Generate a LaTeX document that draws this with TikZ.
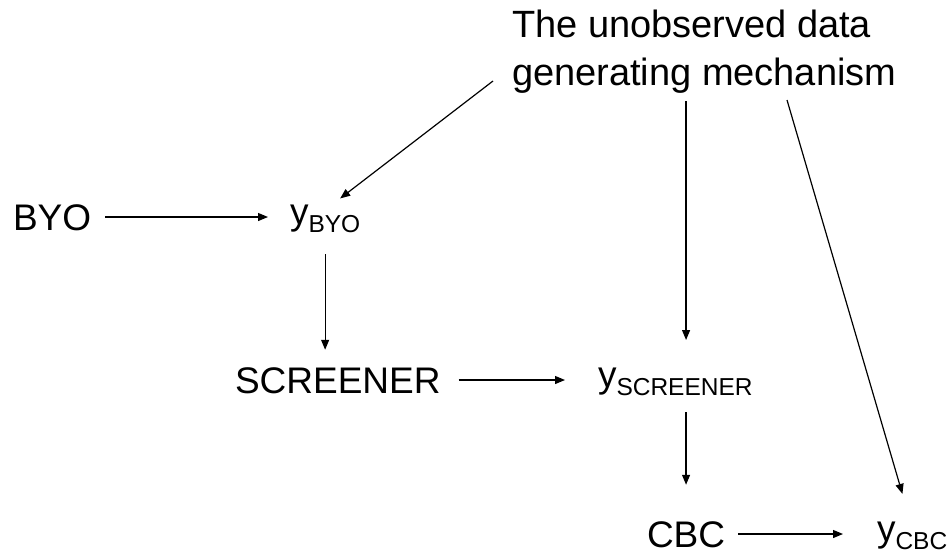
\documentclass[tikz,border=0pt]{standalone}
\usepackage{fontspec}
\setmainfont{Liberation Sans}
\usetikzlibrary{arrows.meta}

\newcommand\bigtxt{\fontsize{37}{48}\selectfont}
\newcommand\headtxt{\fontsize{38}{48}\selectfont}
\newcommand\subtxt{\fontsize{24.5}{24.5}\selectfont}
\newcommand\ysub[1]{y\raisebox{-8pt}{\subtxt #1}}

\begin{document}
\begin{tikzpicture}[x=1pt,y=-1pt,
  lbl/.style={font=\bigtxt, inner sep=0pt, outer sep=0pt, anchor=west,
              text height=26.5pt, text depth=0pt},
  ylbl/.style={font=\bigtxt, inner sep=0pt, outer sep=0pt, anchor=west,
               text height=14pt, text depth=0pt},
  arr/.style={line width=1.2pt, -{Triangle[length=10pt,width=8pt]}}]
\useasboundingbox (0,0) rectangle (950,554);

% text
\node[font=\headtxt, inner sep=0pt, outer sep=0pt, anchor=north west, align=left]
  (mech) at (512,10) {The unobserved data\\generating mechanism};
\node[lbl]  (byo)  at (13,217)  {BYO};
\node[ylbl] (ybyo) at (290,217) {\ysub{BYO}};
\node[lbl]  (scr)  at (235,380) {SCREENER};
\node[ylbl] (yscr) at (598,380) {\ysub{SCREENER}};
\node[lbl]  (cbc)  at (647,534) {CBC};
\node[ylbl] (ycbc) at (877,534) {\ysub{CBC}};

% loose ends under the mechanism label
\coordinate (mechL) at (493,81);
\coordinate (mechR) at (787,100);

% horizontal arrows
\draw[arr, shorten <=14pt, shorten >=22pt] (byo.east) -- (ybyo.west);
\draw[arr, shorten <=18pt, shorten >=33pt] (scr.east) -- (yscr.west);
\draw[arr, shorten <=13pt, shorten >=34pt] (cbc.east) -- (ycbc.west);

% vertical arrows
\draw[arr, shorten <=30pt, shorten >=17pt] (ybyo.south) -- (ybyo.south |- scr.north);
\draw[arr, shorten <=8pt, shorten >=33pt] (mech.south -| cbc.north) -- (yscr.north -| cbc.north);
\draw[arr, shorten <=25pt, shorten >=36pt] (yscr.south -| cbc.north) -- (cbc.north);

% diagonal arrows from the mechanism
\draw[arr, shorten >=19pt] (mechL) -- (ybyo.north);
\draw[arr, shorten >=34.5pt] (mechR) -- (ycbc.north);
\end{tikzpicture}
\end{document}
